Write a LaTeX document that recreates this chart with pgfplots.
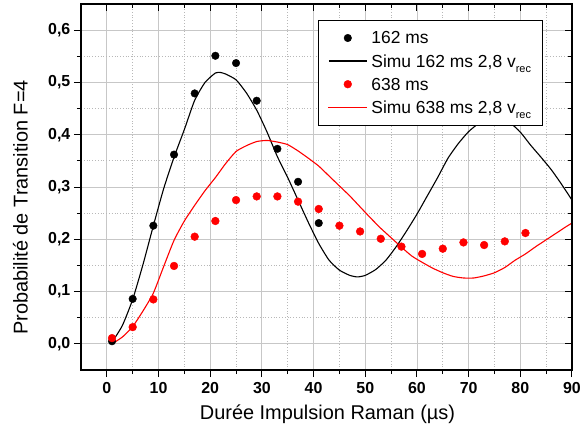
\documentclass[border=0pt]{standalone}
\usepackage{fontspec}
\setmainfont{Liberation Sans}
\usepackage{pgfplots}
\pgfplotsset{compat=1.18}

\pgfplotsset{
  commonaxis/.style={
    width=491bp, height=366bp, scale only axis,
    xmin=-5, xmax=90, ymin=-0.05, ymax=0.65,
    xtick={0,10,...,90}, ytick={0,0.1,...,0.6},
    minor x tick num=1, minor y tick num=1,
    major tick length=7bp, minor tick length=4bp,
    every tick/.style={black, line width=1bp},
    axis line style={line width=1.6bp},
  }
}

\begin{document}
\begin{tikzpicture}
\begin{axis}[
  commonaxis,
  name=main,
  tick align=outside,
  xtick pos=bottom, ytick pos=left,
  grid=both,
  major grid style={line width=0.8bp, black!22},
  minor grid style={line width=0.8bp, black!28, dotted},
  /pgf/number format/assume math mode=true,
  tick label style={font=\bfseries\fontsize{16}{18}\selectfont},
  y tick label style={/pgf/number format/fixed, /pgf/number format/fixed zerofill, /pgf/number format/precision=1, /pgf/number format/use comma},
  yticklabel style={inner sep=3.5bp},
  xticklabel style={inner sep=5.5bp},
  xlabel={Durée Impulsion Raman (µs)},
  ylabel={Probabilité de Transition F=4},
  label style={font=\fontsize{20}{24}\selectfont},
  xlabel style={at={(axis description cs:0.502,-0.1366)}, anchor=base},
  ylabel style={at={(axis description cs:-0.1232,0.444)}, anchor=center},
  legend cell align=left,
  legend image code/.code={\draw[mark repeat=2,mark phase=2,#1] plot coordinates {(0bp,0bp) (19bp,0bp) (38bp,0bp)};},
  legend style={
    at={(axis description cs:0.4827,0.9563)}, anchor=north west,
    fill=white,
    font=\fontsize{17.5}{20}\selectfont,
    inner xsep=10bp, inner ysep=8.8bp,
    nodes={inner sep=1bp, text height=14bp, text depth=2bp},
    row sep=5.1bp, column sep=3bp,
  },
]
% legend entries
\addlegendimage{only marks, mark=*, mark size=3.8bp, color=black, mark options={draw=black, fill=black}}
\addlegendentry{162 ms}
\addlegendimage{color=black, draw=black, line width=1.2bp, mark=none}
\addlegendentry{Simu 162 ms 2,8 v\raisebox{-5.5bp}{\fontsize{11}{11}\selectfont rec}}
\addlegendimage{only marks, mark=*, mark size=3.9bp, color=red, mark options={draw=red, fill=red}}
\addlegendentry{638 ms}
\addlegendimage{color=red, draw=red, line width=1.2bp, mark=none}
\addlegendentry{\llap{\textcolor{red}{\rule[5.3bp]{38.6bp}{1.4bp}}\hspace{4.7bp}}Simu 638 ms 2,8 v\raisebox{-5.5bp}{\fontsize{11}{11}\selectfont rec}}
% 162 ms data
\addplot[forget plot, only marks, mark=*, mark size=3.8bp, color=black, draw=black, mark options={draw=black, fill=black}]
coordinates {
(1,0.005) (5,0.086) (9,0.226) (13,0.362) (17,0.479) (21,0.551) (25,0.537)
(29,0.465) (33,0.373) (37,0.310) (41,0.231)
};
% Simu 162
\addplot[forget plot, color=black, draw=black, line width=1.1bp, mark=none, smooth, tension=0.35]
coordinates {
(1,0.003) (3,0.035) (5,0.085) (7,0.152) (9,0.226) (11,0.297) (13,0.357)
(15,0.410) (17,0.466) (19,0.500) (21,0.518) (22,0.519) (23,0.516) (25,0.505)
(27,0.480) (29,0.447) (31,0.405) (33,0.358) (35,0.318) (37,0.275) (39,0.232)
(41,0.192) (43,0.160) (45,0.141) (47,0.131) (48.5,0.128) (50,0.131) (52,0.142)
(54,0.160) (56,0.186) (58,0.216) (60,0.248) (62,0.283) (64,0.318) (66,0.355)
(68,0.383) (70,0.406) (72,0.422) (74,0.432) (76,0.432) (78,0.423) (80,0.405)
(82,0.380) (84,0.357) (86,0.333) (88,0.305) (90,0.275)
};
% 638 ms data
\addplot[forget plot, only marks, mark=*, mark size=3.9bp, color=red, draw=red, mark options={draw=red, fill=red}]
coordinates {
(1,0.011) (5,0.032) (9,0.085) (13,0.149) (17,0.205) (21,0.235) (25,0.275)
(29,0.282) (33,0.282) (37,0.272) (41,0.258) (45,0.226) (49,0.215) (53,0.201)
(57,0.186) (61,0.172) (65,0.182) (69,0.194) (73,0.189) (77,0.196) (81,0.212)
};
% Simu 638
\addplot[forget plot, color=red, draw=red, line width=1.1bp, mark=none, smooth, tension=0.35]
coordinates {
(1,0.000) (3,0.013) (5,0.033) (7,0.063) (9,0.097) (11,0.148) (13,0.198)
(15,0.235) (17,0.265) (19,0.293) (21,0.318) (23,0.345) (25,0.368) (27,0.379)
(29,0.387) (31,0.389) (33,0.386) (35,0.381) (37,0.369) (39,0.355) (41,0.340)
(43,0.321) (45,0.302) (47,0.283) (49,0.262) (51,0.241) (53,0.221) (55,0.203)
(57,0.185) (59,0.168) (61,0.156) (63,0.145) (65,0.136) (67,0.129) (69,0.126)
(71,0.126) (73,0.130) (75,0.136) (77,0.146) (79,0.160) (81,0.172) (83,0.186)
(85,0.199) (87,0.212) (89,0.225) (90,0.231)
};
\end{axis}
\begin{axis}[
  commonaxis,
  tick align=inside,
  xtick pos=right, ytick pos=right,
  xticklabels={}, yticklabels={},
]
\end{axis}
\pgfresetboundingbox
\path (main.south west) ++(-81bp,-69bp) rectangle ++(580bp,439bp);
\end{tikzpicture}
\end{document}
